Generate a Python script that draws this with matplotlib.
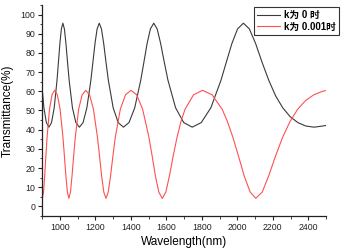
#!/usr/bin/env python3
# -*- coding: utf-8 -*-

"""Transmittance vs wavelength, k = 0 and k = 0.001 (Origin style)."""

import numpy as np
import matplotlib
matplotlib.use("Agg")
import matplotlib.pyplot as plt
from matplotlib.ticker import MultipleLocator

plt.rcParams["font.family"] = ["Liberation Sans", "Noto Sans CJK SC", "DejaVu Sans"]
plt.rcParams["axes.unicode_minus"] = False

# ============================
# Data
# ============================
# k = 0
WL_K0 = [900.0, 910.1, 924.0, 938.3, 953.0, 968.2, 984.0, 992.0, 1000.2, 1008.5,
         1017.0, 1025.6, 1034.3, 1043.2, 1052.3, 1070.9, 1090.2, 1110.1, 1130.7, 1152.2,
         1174.8, 1186.2, 1198.0, 1209.9, 1222.0, 1234.4, 1247.0, 1259.9, 1273.2, 1300.4,
         1328.7, 1358.3, 1389.5, 1421.9, 1455.8, 1473.6, 1491.6, 1510.1, 1529.1, 1548.3,
         1567.9, 1588.3, 1609.0, 1652.1, 1697.8, 1745.8, 1796.6, 1850.8, 1908.0, 1938.0,
         1969.3, 2001.2, 2034.2, 2067.8, 2103.0, 2139.0, 2176.8, 2215.3, 2255.8, 2297.3,
         2340.8, 2385.5, 2432.5, 2480.8, 2500.0]
T_K0 = [61.7, 51.4, 43.7, 41.3, 43.7, 51.4, 65.8, 75.2, 84.9, 92.5,
        95.5, 92.5, 84.9, 75.2, 65.8, 51.4, 43.7, 41.3, 43.7, 51.4,
        65.8, 75.2, 84.9, 92.5, 95.5, 92.5, 84.9, 75.2, 65.8, 51.4,
        43.7, 41.3, 43.7, 51.4, 65.8, 75.2, 84.9, 92.5, 95.5, 92.5,
        84.9, 75.2, 65.8, 51.4, 43.7, 41.3, 43.7, 51.4, 65.8, 75.2,
        84.9, 92.5, 95.5, 92.5, 84.9, 75.2, 65.8, 57.7, 51.4, 46.8,
        43.7, 41.9, 41.3, 41.9, 42.2]

# k = 0.001
WL_K1 = [900.0, 901.7, 908.2, 914.7, 921.3, 928.1, 941.8, 956.0, 970.6, 985.7,
         1001.3, 1017.3, 1025.5, 1033.9, 1042.3, 1051.0, 1059.8, 1068.7, 1077.8, 1087.1,
         1106.0, 1125.6, 1146.0, 1167.1, 1189.1, 1211.7, 1223.4, 1235.3, 1247.5, 1259.9,
         1272.7, 1285.8, 1299.1, 1312.7, 1340.8, 1370.1, 1400.8, 1432.9, 1466.3, 1501.5,
         1519.8, 1538.2, 1557.4, 1577.0, 1597.2, 1617.6, 1638.8, 1660.6, 1682.9, 1705.6,
         1753.5, 1803.8, 1857.4, 1914.2, 1943.6, 1974.3, 2006.0, 2038.3, 2072.1, 2104.0,
         2140.2, 2177.1, 2215.8, 2255.9, 2297.5, 2340.3, 2384.8, 2431.3, 2479.6, 2500.0]
T_K1 = [4.4, 4.2, 7.5, 16.0, 26.4, 36.2, 50.7, 58.2, 60.5, 58.2,
        50.7, 36.2, 26.4, 16.0, 7.5, 4.2, 7.5, 16.0, 26.4, 36.2,
        50.7, 58.2, 60.5, 58.2, 50.7, 36.2, 26.4, 16.0, 7.5, 4.2,
        7.5, 16.0, 26.4, 36.2, 50.7, 58.2, 60.5, 58.2, 50.7, 36.2,
        26.4, 16.0, 7.5, 4.2, 7.5, 16.0, 26.4, 36.2, 44.4, 50.7,
        58.2, 60.5, 58.2, 50.7, 44.4, 36.2, 26.4, 16.0, 7.5, 4.2,
        7.5, 16.0, 26.4, 36.2, 44.4, 50.7, 55.2, 58.2, 60.0, 60.4]

LABELS = ["k为 0 时", "k为 0.001时"]
COLORS = ["#3a3a3a", "#ff5050"]

XLABEL = "Wavelength(nm)"
YLABEL = "Transmittance(%)"


def plot_transmittance():
    fig = plt.figure(figsize=(3.48, 2.48), dpi=100)
    ax = fig.add_axes([0.121, 0.129, 0.816, 0.851])

    ax.plot(WL_K0, T_K0, color=COLORS[0], lw=0.8, label=LABELS[0])
    ax.plot(WL_K1, T_K1, color=COLORS[1], lw=0.8, label=LABELS[1])

    ax.set_xlim(900, 2500)
    ax.set_ylim(-5, 105)
    ax.xaxis.set_minor_locator(MultipleLocator(100))
    ax.yaxis.set_major_locator(MultipleLocator(10))
    ax.yaxis.set_minor_locator(MultipleLocator(5))
    ax.set_xticks(np.arange(1000, 2401, 200))

    # Origin look: only left/bottom axes, ticks outwards
    ax.spines["top"].set_visible(False)
    ax.spines["right"].set_visible(False)
    for s in ("left", "bottom"):
        ax.spines[s].set_linewidth(0.9)
        ax.spines[s].set_color("#222222")
    ax.tick_params(which="major", direction="out", length=3, width=0.8,
                   labelsize=6.3, pad=2, colors="#222222")
    ax.tick_params(which="minor", direction="out", length=1.8, width=0.6,
                   colors="#222222")

    ax.set_xlabel(XLABEL, fontsize=8.5, labelpad=3)
    ax.set_ylabel(YLABEL, fontsize=8.5, labelpad=5)

    leg = ax.legend(loc="upper left", bbox_to_anchor=(254 / 348, 1 - 7 / 248),
                    bbox_transform=fig.transFigure,
                    prop={"size": 7, "weight": "bold"},
                    frameon=True, fancybox=False, handlelength=2.4,
                    borderpad=0.3, labelspacing=0.2, handletextpad=0.4,
                    borderaxespad=0)
    leg.get_frame().set_edgecolor("black")
    leg.get_frame().set_linewidth(0.8)

    fig.savefig("out.png", dpi=100, facecolor="white")
    plt.close(fig)


if __name__ == "__main__":
    plot_transmittance()
